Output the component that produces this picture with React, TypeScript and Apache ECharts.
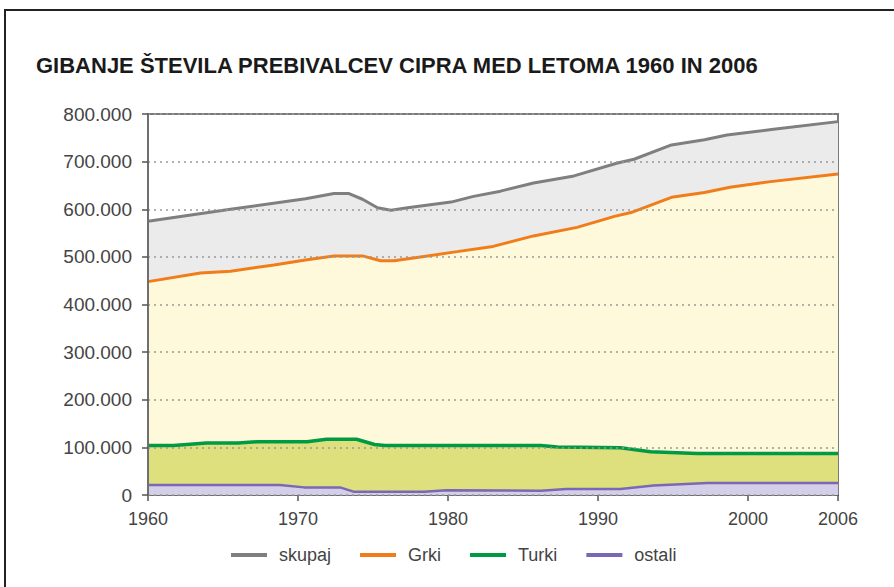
import React, { useEffect, useRef } from "react";
import * as echarts from "echarts";

const titleText = "GIBANJE ŠTEVILA PREBIVALCEV CIPRA MED LETOMA 1960 IN 2006";
const seriesNames = ["skupaj", "Grki", "Turki", "ostali"];
const xTicks = [1960, 1970, 1980, 1990, 2000, 2006];

const skupaj: [number, number][] = [
  [1960, 575000], [1965.5, 600000], [1970.5, 622000], [1972.4, 633000], [1973.4, 633000],
  [1974.3, 621000], [1975.3, 603000], [1976.2, 598000], [1977.3, 603000], [1980.2, 615000],
  [1981.7, 627000], [1983.5, 638000], [1985.7, 655000], [1988.4, 670000], [1991.3, 697000],
  [1992.4, 705000], [1994.9, 735000], [1997.1, 746000], [1998.6, 756000], [2001.7, 768000],
  [2006, 784000],
];
const grki: [number, number][] = [
  [1960, 448000], [1963.5, 466000], [1965.5, 470000], [1968.4, 483000], [1970.6, 494000],
  [1972.4, 502000], [1974.3, 502000], [1975.5, 492000], [1976.4, 492000], [1978.4, 501000],
  [1980.6, 511000], [1983, 522000], [1985.7, 544000], [1988.6, 562000], [1991.1, 585000],
  [1992.2, 593000], [1994.9, 625000], [1997.1, 635000], [1998.8, 646000], [2001.5, 658000],
  [2006, 674000],
];
const turki: [number, number][] = [
  [1960, 104000], [1961.7, 104000], [1963.9, 109000], [1966, 109000], [1967.3, 112000],
  [1970.6, 112000], [1971.9, 117000], [1973.9, 117000], [1975.1, 106000], [1975.8, 104000],
  [1986.2, 104000], [1987.3, 101000], [1991.5, 99000], [1993.5, 91000], [1996.6, 87000],
  [2006, 87000],
];
const ostali: [number, number][] = [
  [1960, 21000], [1968.8, 21000], [1970.4, 16000], [1972.8, 16000], [1973.7, 7000],
  [1978.4, 7000], [1979.9, 10000], [1986.2, 9000], [1987.9, 12500], [1991.5, 12500],
  [1993.7, 20000], [1997.3, 25000], [2006, 25000],
];

const lineColors = ["#7f7f7f", "#f07d1a", "#009a44", "#7b68b4"];
const fillColors = ["#ebebeb", "#fff9db", "#dde07c", "#d4cfe9"];
const lineWidths = [3, 3, 3.5, 2.5];

const FONT = "'Liberation Sans', Arial, sans-serif";

function fmt(v: number): string {
  if (v === 0) return "0";
  const s = String(Math.round(v));
  return s.replace(/\B(?=(\d{3})+(?!\d))/g, ".");
}

export default function App() {
  const ref = useRef<HTMLDivElement>(null);
  useEffect(() => {
    document.body.style.margin = "0";
    const chart = echarts.init(ref.current!, null, { renderer: "svg" });
    const datasets = [skupaj, grki, turki, ostali];
    chart.setOption({
      animation: false,
      backgroundColor: "#ffffff",
      textStyle: { fontFamily: FONT },
      title: {
        text: titleText,
        left: 31,
        top: 49,
        textStyle: { fontFamily: FONT, fontWeight: "bold", fontSize: 22, color: "#1a1a1a" },
      },
      graphic: [
        {
          type: "rect",
          shape: { x: 5, y: 10, width: 1000, height: 1000 },
          style: { fill: "none", stroke: "#222", lineWidth: 2 },
          silent: true,
        },
      ],
      legend: {
        left: 226,
        top: 541,
        itemWidth: 36,
        itemHeight: 4,
        itemGap: 29,
        icon: "rect",
        data: seriesNames,
        textStyle: { fontFamily: FONT, fontSize: 18, color: "#444", padding: [0, 0, 0, 7] },
      },
      grid: {
        left: 148,
        right: 56,
        top: 114,
        bottom: 92,
        show: true,
        borderColor: "#7a7a7a",
        borderWidth: 2,
        backgroundColor: "transparent",
      },
      xAxis: {
        type: "value",
        min: 1960,
        max: 2006,
        splitLine: { show: false },
        axisLine: { show: true, lineStyle: { color: "#6f6f6f", width: 2 } },
        axisTick: { show: true, length: 6, lineStyle: { color: "#555", width: 1.5 }, customValues: xTicks },
        axisLabel: {
          customValues: xTicks,
          margin: 15,
          fontSize: 18,
          color: "#444",
          fontFamily: FONT,
          formatter: (v: number) => String(v),
        },
      },
      yAxis: {
        type: "value",
        min: 0,
        max: 800000,
        interval: 100000,
        z: 5,
        axisLine: { show: true, lineStyle: { color: "#6f6f6f", width: 2 } },
        axisTick: { show: true, length: 6, lineStyle: { color: "#555", width: 1.5 } },
        axisLabel: { margin: 16, fontSize: 19, color: "#444", fontFamily: FONT, formatter: fmt },
        splitLine: { show: true, lineStyle: { color: "#999", width: 1.5, type: [2, 4] } },
      },
      series: seriesNames.map((name, i) => ({
        name,
        type: "line",
        data: datasets[i],
        symbol: "none",
        showSymbol: false,
        itemStyle: { color: lineColors[i] },
        lineStyle: { color: lineColors[i], width: lineWidths[i] },
        areaStyle: { color: fillColors[i], opacity: 1 },
        z: 2,
      })),
    });
    return () => chart.dispose();
  }, []);
  return <div ref={ref} style={{ width: 894, height: 587 }} />;
}
